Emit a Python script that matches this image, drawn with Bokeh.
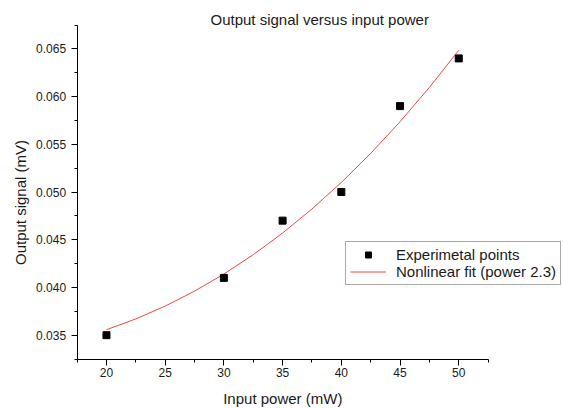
from math import pi
from bokeh.plotting import figure
from bokeh.models import (FixedTicker, PrintfTickFormatter, Label, Legend,
                          LegendItem, Range1d)
from bokeh.embed import file_html
from bokeh.resources import INLINE

# ---- data ----
power_mw = [20, 30, 35, 40, 45, 50]
signal_mv = [0.035, 0.041, 0.047, 0.050, 0.059, 0.064]

fit_power_mw = [20, 22.5, 25, 27.5, 30, 32.5, 35, 37.5, 40, 42.5, 45, 47.5, 50]
fit_signal_mv = [0.03557, 0.03670, 0.03804, 0.03961, 0.04140, 0.04343, 0.04570,
                 0.04822, 0.05100, 0.05405, 0.05736, 0.06096, 0.06485]

x_ticks = [20, 25, 30, 35, 40, 45, 50]
x_minor_ticks = [17.5, 22.5, 27.5, 32.5, 37.5, 42.5, 47.5, 52.5]
y_ticks = [0.035, 0.040, 0.045, 0.050, 0.055, 0.060, 0.065]
y_minor_ticks = [0.0325, 0.0375, 0.0425, 0.0475, 0.0525, 0.0575, 0.0625, 0.0675]
x_axis_bounds = (17.5, 52.5)
y_axis_bounds = (0.0325, 0.0675)

title_text = "Output signal versus input power"
x_label_text = "Input power (mW)"
y_label_text = "Output signal (mV)"
points_label = "Experimetal points"
fit_label = "Nonlinear fit (power 2.3)"

FONT = "Liberation Sans"
TXT = "#1a1a1a"

# The frame covers the whole canvas; the axes are drawn at fixed data
# locations and limited with bounds, so every text can sit inside the frame.
W, H = 563, 408
AX_LEFT_PX = 76.6      # canvas x of the y axis
AX_BOTTOM_PX = 358.5   # canvas y of the x axis
PX_X = 411 / 35.0
PX_Y = 334 / 0.035
x_start = x_axis_bounds[0] - AX_LEFT_PX / PX_X
x_end = x_axis_bounds[0] + (W - AX_LEFT_PX) / PX_X
y_start = y_axis_bounds[0] - (H - AX_BOTTOM_PX) / PX_Y
y_end = y_axis_bounds[0] + AX_BOTTOM_PX / PX_Y

p = figure(frame_width=W, frame_height=H,
           x_range=Range1d(x_start, x_end), y_range=Range1d(y_start, y_end),
           output_backend="svg", toolbar_location=None,
           min_border_left=0, min_border_right=0,
           min_border_top=0, min_border_bottom=0)
p.xgrid.visible = False
p.ygrid.visible = False
p.outline_line_color = None
p.background_fill_color = "white"
p.border_fill_color = "white"

for ax in (p.xaxis[0], p.yaxis[0]):
    ax.axis_line_color = "black"
    ax.axis_line_width = 1
    ax.major_tick_line_color = "black"
    ax.minor_tick_line_color = "black"
    ax.major_tick_out = 6
    ax.major_tick_in = 0
    ax.minor_tick_out = 3
    ax.minor_tick_in = 0
    ax.major_label_text_font = FONT
    ax.major_label_text_font_size = "12px"
    ax.major_label_text_color = TXT

p.xaxis[0].ticker = FixedTicker(ticks=x_ticks, minor_ticks=x_minor_ticks)
p.xaxis[0].formatter = PrintfTickFormatter(format="%d")
p.xaxis[0].major_label_standoff = 3
p.xaxis[0].bounds = x_axis_bounds
p.xaxis[0].fixed_location = y_axis_bounds[0]

p.yaxis[0].ticker = FixedTicker(ticks=y_ticks, minor_ticks=y_minor_ticks)
p.yaxis[0].formatter = PrintfTickFormatter(format="%.3f")
p.yaxis[0].major_label_standoff = 5
p.yaxis[0].bounds = y_axis_bounds
p.yaxis[0].fixed_location = x_axis_bounds[0]

fit = p.line(fit_power_mw, fit_signal_mv, line_color="#ef4646", line_width=1)
pts = p.scatter(power_mw, signal_mv, marker="square", size=7,
                fill_color="black", line_color="black")

legend = Legend(items=[LegendItem(label=points_label, renderers=[pts]),
                       LegendItem(label=fit_label, renderers=[fit])],
                location=(345, H - 285), margin=0, padding=4, spacing=0,
                glyph_width=36, glyph_height=15, label_height=15,
                label_standoff=10,
                label_text_font=FONT, label_text_font_size="15px",
                label_text_color=TXT,
                border_line_color="#555555", border_line_width=1,
                background_fill_color="white", background_fill_alpha=1)
p.add_layout(legend)

def text_label(x, y, text, angle=0.0):
    return Label(x=x, y=y, x_units="screen", y_units="screen", angle=angle,
                 text=text, text_align="center", text_baseline="alphabetic",
                 text_font=FONT, text_font_size="15px", text_color=TXT)

p.add_layout(text_label(319.2, H - 19, title_text))
p.add_layout(text_label(282.3, H - 397.5, x_label_text))
p.add_layout(text_label(20, H - 202, y_label_text, angle=pi / 2))

open("out.html", "w").write(file_html(p, INLINE))
